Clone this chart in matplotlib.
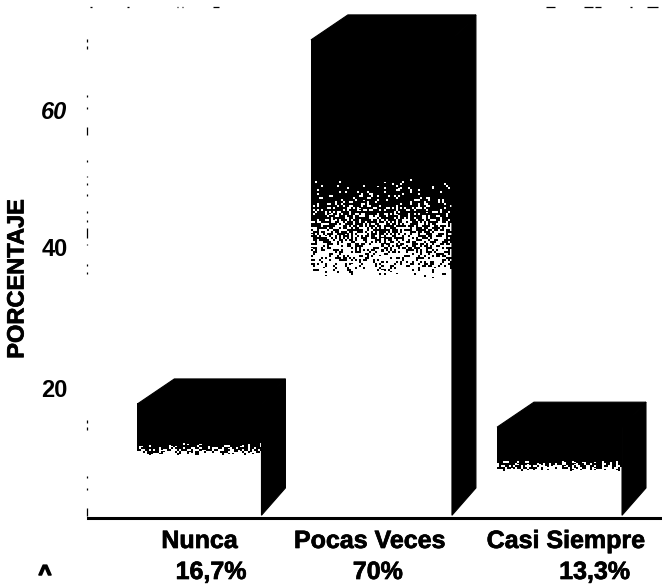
import numpy as np
import matplotlib
matplotlib.use('Agg')
import matplotlib.pyplot as plt
import matplotlib.patheffects as pe
from matplotlib.patches import Polygon
from matplotlib.transforms import ScaledTranslation

plt.rcParams['font.family'] = ['Liberation Sans', 'DejaVu Sans']

# data
categories = ['Nunca', 'Pocas Veces', 'Casi Siempre']
percent_labels = ['16,7%', '70%', '13,3%']
values = [16.7, 70, 13.3]
y_ticks = [20, 40, 60]

# layout, in category / value units
bar_pos = [0, 1.011, 2.0]
bar_width = [0.689, 0.783, 0.694]
label_shift = [0, -0.065, 0.035]
percent_shift = [0.065, -0.02, 0.195]
depth_left = 0.205
depth_right = 0.133
depth_y = 3.66
side_drop = 4.4
fade_start = [0.35, 0.29, 0.37]
fade_end = [0.46, 0.50, 0.49]

# what the scan kept of the frame, (start, length) in pixels along each line
top_bits = [(2, 2), (39, 2), (89, 1), (94, 1), (125, 6), (458, 9), (496, 9), (507, 6), (542, 2), (559, 11)]
left_bits = [(2, 8), (28, 2), (40, 2), (88, 3), (95, 3), (244, 2), (252, 2), (273, 1), (280, 10), (296, 2),
             (305, 2), (322, 2), (333, 2), (341, 1), (356, 2), (381, 1), (385, 5), (395, 15), (417, 2),
             (424, 2), (440, 6), (456, 12), (473, 2), (497, 2), (511, 1)]


def bits_to_dashes(bits, lw):
    # dashes get scaled by the linewidth, so undo that and go px -> pt
    k = 0.72 / lw
    pattern = [0.001, bits[0][0] * k]
    for j, (start, length) in enumerate(bits):
        end = start + length
        gap = bits[j + 1][0] - end if j + 1 < len(bits) else 2000
        pattern += [length * k, gap * k]
    return (0, tuple(pattern))


def speckle(w, h, cell=2):
    # hash noise, gives the scanned dither look without any rng
    xx, yy = np.meshgrid(np.arange(w) // cell, np.arange(h) // cell)
    return np.mod(np.sin(xx * 12.9898 + yy * 78.233) * 43758.5453, 1)


def front_image(w, h, start, end):
    t = (np.arange(h) + 0.5) / h
    dark = np.clip(1 - (t - start) / (end - start), 0, 1)[:, None] ** 0.75
    return (speckle(w, h) > dark).astype(float)


scan_stroke = [pe.withStroke(linewidth=0.5, foreground='black')]

fig = plt.figure(figsize=(6.62, 5.84), dpi=100)
ax = fig.add_axes([88 / 662, 66 / 584, 574 / 662, 511 / 584])
xlim = (-0.619, 2.569)
ylim = (0, 511 / 6.83)

for i, v in enumerate(values):
    left = bar_pos[i] - bar_width[i] / 2
    right = left + bar_width[i]
    w_px = int(bar_width[i] * 180)
    h_px = int(v * 6.83)
    ax.imshow(front_image(w_px, h_px, fade_start[i], fade_end[i]), cmap='gray', vmin=0, vmax=1,
              extent=[left, right, 0, v], aspect='auto', interpolation='nearest', zorder=2)
    top = [(left, v), (left + depth_left, v + depth_y), (right + depth_right, v + depth_y), (right, v)]
    side = [(right, v), (right + depth_right, v + depth_y), (right + depth_right, side_drop), (right, 0.4)]
    ax.add_patch(Polygon(top, closed=True, fc='black', ec='black', lw=0.8, zorder=3))
    ax.add_patch(Polygon(side, closed=True, fc='black', ec='black', lw=0.8, zorder=3))

ax.set_xlim(*xlim)
ax.set_ylim(*ylim)

# axes: thick baseline, the rest survives only as broken bits of the scan
ax.spines['right'].set_visible(False)
ax.spines['bottom'].set_linewidth(2.2)
ax.spines['left'].set_position(('outward', 0.7))
ax.spines['left'].set_linewidth(0.9)
ax.spines['left'].set_capstyle('butt')
ax.spines['left'].set_linestyle(bits_to_dashes(left_bits, 0.9))
ax.spines['top'].set_linewidth(0.9)
ax.spines['top'].set_capstyle('butt')
ax.spines['top'].set_linestyle(bits_to_dashes(top_bits, 0.9))

ax.set_xticks([])
ax.set_yticks(y_ticks)
ax.set_yticklabels([str(t) for t in y_ticks], fontsize=17, fontweight='bold')
ax.tick_params(axis='y', length=0, pad=14)
tick_drop = {20: 7, 40: 2, 60: 2}
for t, lab in zip(y_ticks, ax.get_yticklabels()):
    lab.set_transform(lab.get_transform() + ScaledTranslation(0, -tick_drop[t] / 100, fig.dpi_scale_trans))
    if t == 60:
        lab.set_fontstyle('italic')

for i, name in enumerate(categories):
    ax.text(bar_pos[i] + label_shift[i], -23 / 511, name, transform=ax.get_xaxis_transform(),
            ha='center', va='center', fontsize=18, fontweight='bold', color='black', path_effects=scan_stroke)
    ax.text(bar_pos[i] + percent_shift[i], -54 / 511, percent_labels[i], transform=ax.get_xaxis_transform(),
            ha='center', va='center', fontsize=18, fontweight='bold', color='black', path_effects=scan_stroke)

fig.text(17 / 662, 1 - 279 / 584, 'PORCENTAJE', rotation=90, ha='center', va='center',
         fontsize=17, fontweight='bold', path_effects=scan_stroke)
# what is left of the clipped zero label
fig.text(45 / 662, 1 - 575 / 584, '^', ha='center', va='center', fontsize=16, fontweight='bold',
         path_effects=[pe.withStroke(linewidth=1.2, foreground='black')])

fig.savefig('out.png', dpi=100)
